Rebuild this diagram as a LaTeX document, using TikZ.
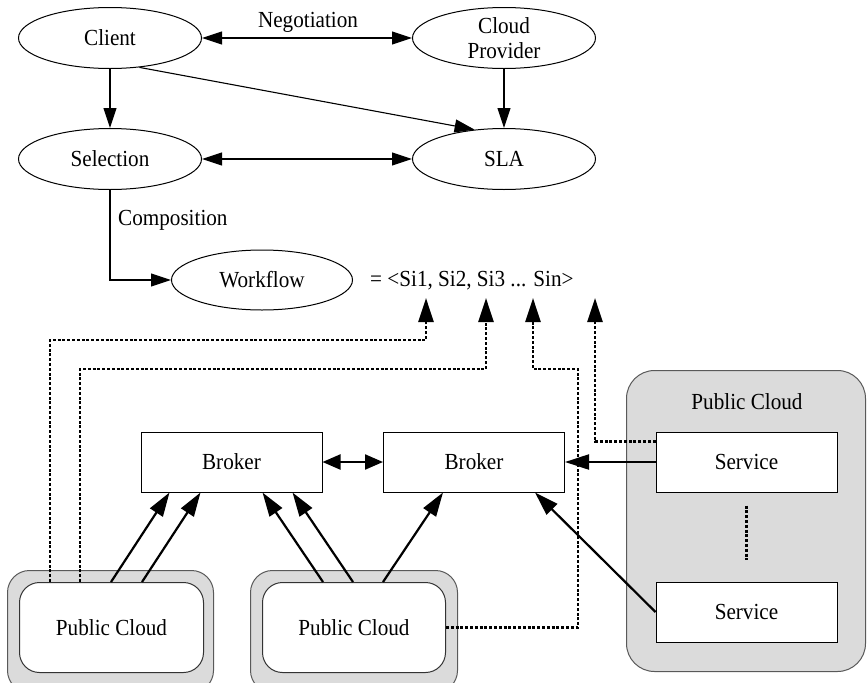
\documentclass[tikz,border=0pt]{standalone}
\usepackage{fontspec}
\setmainfont[FakeStretch=0.92]{Liberation Serif}
\usetikzlibrary{shapes.geometric,arrows.meta}
\begin{document}
\begin{tikzpicture}[x=1pt,y=-1pt,
  every node/.style={font=\fontsize{23}{27}\selectfont},
  ell/.style={ellipse,draw,line width=1pt,minimum width=183pt,minimum height=61pt,inner sep=0pt},
  box/.style={rectangle,draw,fill=white,line width=1pt,minimum width=181pt,minimum height=60pt,inner sep=0pt},
  thinarr/.style={line width=1.1pt,-{Triangle[length=20pt,width=13pt]}},
  thinbi/.style={line width=1.1pt,{Triangle[length=20pt,width=13pt]}-{Triangle[length=20pt,width=13pt]}},
  thickarr/.style={line width=2.2pt,-{Triangle[length=24pt,width=15pt]}},
  thickbi/.style={line width=2.2pt,{Triangle[length=18pt,width=15pt]}-{Triangle[length=18pt,width=15pt]}},
  dots/.style={line width=2.6pt,dash pattern=on 3pt off 1.8pt},
  dotarr/.style={dots,-{Triangle[length=24pt,width=15pt]}},
  grayc/.style={fill=black!14,draw=black!65,line width=1pt,inner sep=0pt},
  whitec/.style={draw=black!80,fill=white,line width=1pt,inner sep=0pt}
]
\useasboundingbox (0,0) rectangle (868,683);
\clip (0,0) rectangle (868,683);

% top graph
\node[ell] (client) at (110,38) {Client};
\node[ell,align=center] (cp) at (504,38) {Cloud\\[-2pt]Provider};
\node[ell] (sel) at (110,159) {Selection};
\node[ell] (sla) at (504,159) {SLA};
\node[ell,minimum width=181pt,minimum height=60pt] (wf) at (262,280) {Workflow};
\node[anchor=west,inner sep=0pt] (seq) at (370,281) {= <Si1, Si2, Si3 ... Sin>};
\node (neg) at (308,22) {Negotiation};
\node[anchor=west,inner sep=0pt] (comp) at (118,220) {Composition};

\draw[thinbi] (client) -- (cp);
\draw[thinarr] (client) -- (sel);
\draw[thinarr] (cp) -- (sla);
\draw[thinarr] (client.-45) -- (sla.135);
\draw[thinbi] (sel) -- (sla);
\draw[thinarr] (sel.south) |- (wf.west);

% arrow targets under the sequence
\coordinate (t1) at (426,298);
\coordinate (t2) at (486,298);
\coordinate (t3) at (533,298);
\coordinate (t4) at (595,298);

% right public cloud
\node[grayc,rounded corners=28pt,minimum width=239pt,minimum height=301pt,anchor=north west] (rc) at (626,370) {};
\node (rclab) at (747,402) {Public Cloud};
\node[box] (s1) at (746.5,462) {Service};
\node[box] (s2) at (746.5,612) {Service};
\draw[dots,line width=2.2pt] ([yshift=-13pt]s1.south) -- ([yshift=22pt]s2.north);

% brokers
\node[box] (b1) at (231.5,462) {Broker};
\node[box] (b2) at (474,462) {Broker};

% bottom public clouds
\node[grayc,rounded corners=22pt,minimum width=206pt,minimum height=122pt,anchor=north west] (pc1o) at (7,570) {};
\node[whitec,rounded corners=20pt,minimum width=184pt,minimum height=90pt,anchor=north west] (pc1) at (19,582) {Public Cloud};
\node[grayc,rounded corners=22pt,minimum width=207pt,minimum height=122pt,anchor=north west] (pc2o) at (250,570) {};
\node[whitec,rounded corners=20pt,minimum width=183pt,minimum height=90pt,anchor=north west] (pc2) at (262,582) {Public Cloud};

% solid arrows
\draw[thickarr] ([xshift=92pt]pc1.north west) -- ([xshift=29pt]b1.south west);
\draw[thickarr] ([xshift=123pt]pc1.north west) -- ([xshift=60pt]b1.south west);
\draw[thickarr] ([xshift=61pt]pc2.north west) -- ([xshift=122pt]b1.south west);
\draw[thickarr] ([xshift=91pt]pc2.north west) -- ([xshift=152pt]b1.south west);
\draw[thickarr] ([xshift=121pt]pc2.north west) -- ([xshift=60pt]b2.south west);
\draw[thickbi] (b1.east) -- (b2.west);
\draw[thickarr] (s1.west) -- (b2.east);
\draw[thickarr] (s2.west) -- ([xshift=-30pt]b2.south east);

% dotted arrows
\draw[dotarr] ([xshift=31pt]pc1.north west) |- ([yshift=-42pt]t1) -- (t1);
\draw[dotarr] ([xshift=61pt]pc1.north west) |- ([yshift=-71pt]t2) -- (t2);
\draw[dotarr] (pc2.east) -- ++(132,0) |- ([yshift=-71pt]t3) -- (t3);
\draw[dotarr] ([yshift=-10pt]s1.north west) -| (t4);
\end{tikzpicture}
\end{document}
